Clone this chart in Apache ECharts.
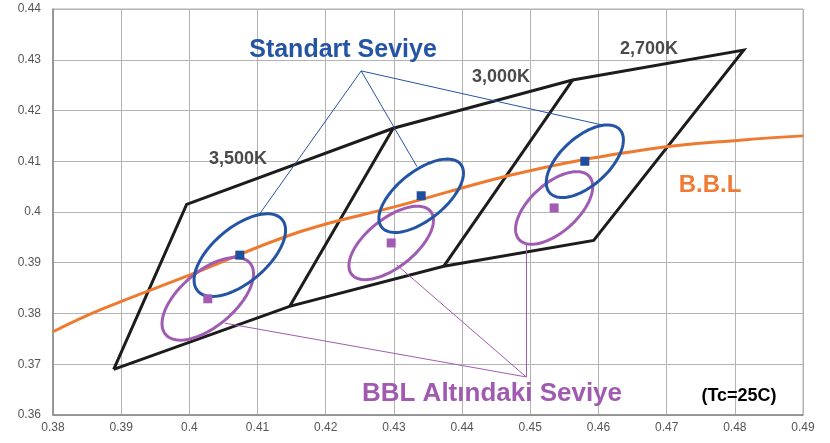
<!DOCTYPE html>
<html>
<head>
<meta charset="utf-8">
<script src="https://cdn.jsdelivr.net/npm/echarts@6/dist/echarts.min.js"></script>
<style>html,body{margin:0;padding:0;background:#fff}#c{width:830px;height:443px}</style>
</head>
<body>
<div id="c"></div>
<script>
// ---- data ----
const xMin = 0.38, xMax = 0.49, yMin = 0.36, yMax = 0.44, step = 0.01;
const cctLabels = ['3,500K', '3,000K', '2,700K'];
// Black Body Locus (B.B.L)
const bblX = [0.38, 0.3869, 0.4001, 0.4162, 0.4309, 0.4485, 0.4675, 0.4812, 0.49];
const bblY = [0.3764, 0.3807, 0.3876, 0.3961, 0.4013, 0.4077, 0.4124, 0.4142, 0.4150];
// quadrangle outline (3500K / 3000K / 2700K)
const quadX = [0.3889, 0.3996, 0.4299, 0.4562, 0.4813, 0.4593, 0.4373, 0.4147, 0.3889];
const quadY = [0.3690, 0.4015, 0.4165, 0.4260, 0.4319, 0.3944, 0.3893, 0.3814, 0.3690];
// inner dividers
const divider1X = [0.4299, 0.4147], divider1Y = [0.4165, 0.3814];
const divider2X = [0.4562, 0.4373], divider2Y = [0.4260, 0.3893];
// ellipse centres
const standardX = [0.4074, 0.4340, 0.4580];
const standardY = [0.3915, 0.4032, 0.4100];
const belowX = [0.4027, 0.4296, 0.4535];
const belowY = [0.3829, 0.3939, 0.4008];
// ellipse shape (semi-axes, rotation in degrees)
const ellipseA = [0.0095, 0.0086, 0.0082];
const ellipseB = [0.0046, 0.0041, 0.0040];
const ellipseAngle = [54, 52, 56];
// leader lines
const standardHub = [0.4252, 0.4278];
const standardTargetsX = [0.4104, 0.4334, 0.4607];
const standardTargetsY = [0.3998, 0.4089, 0.4171];
const belowHub = [0.4494, 0.3675];
const belowTargetsX = [0.4052, 0.4304, 0.4494];
const belowTargetsY = [0.3781, 0.3896, 0.3939];

const BLUE = '#2454a4', PURPLE = '#a05bb2', ORANGE = '#ee7a30';

const zip = (a, b) => a.map((v, i) => [v, b[i]]);
function ellipseData(cx, cy) {
  return cx.map((v, i) => [v, cy[i], ellipseA[i], ellipseB[i], ellipseAngle[i]]);
}
function ellipseSeries(cx, cy, color) {
  return {
    type: 'custom', z: 5,
    data: ellipseData(cx, cy),
    encode: { x: 0, y: 1 },
    renderItem: function (params, api) {
      const ex = api.value(0), ey = api.value(1), a = api.value(2), b = api.value(3);
      const th = api.value(4) * Math.PI / 180;
      const pts = [];
      for (let k = 0; k <= 90; k++) {
        const t = 2 * Math.PI * k / 90;
        const x = ex + a * Math.cos(t) * Math.cos(th) - b * Math.sin(t) * Math.sin(th);
        const y = ey + a * Math.cos(t) * Math.sin(th) + b * Math.sin(t) * Math.cos(th);
        pts.push(api.coord([x, y]));
      }
      return { type: 'polygon', shape: { points: pts }, style: { fill: 'none', stroke: color, lineWidth: 3 } };
    }
  };
}
function leaders(hub, tx, ty, color) {
  return {
    type: 'lines', coordinateSystem: 'cartesian2d', z: 4,
    lineStyle: { color: color, width: 1, opacity: 1 },
    data: tx.map((v, i) => ({ coords: [hub, [v, ty[i]]] }))
  };
}
function blackLine(xs, ys) {
  return {
    type: 'line', data: zip(xs, ys), symbol: 'none', z: 2,
    lineStyle: { color: '#1c1c1c', width: 3, join: 'miter' }, animation: false
  };
}

const chart = echarts.init(document.getElementById('c'));
const font = 'Liberation Sans, Arial, sans-serif';
function txt(s, x, y, size, color) {
  return { type: 'text', x: x, y: y, z: 100,
    style: { text: s, fill: color, font: 'bold ' + size + 'px ' + font, textAlign: 'center', textVerticalAlign: 'middle' } };
}
chart.setOption({
  animation: false,
  grid: { left: 53, right: 27, top: 9, bottom: 28, show: true, borderColor: '#b3b3b3', borderWidth: 1 },
  xAxis: {
    type: 'value', min: xMin, max: xMax, interval: step,
    axisLine: { lineStyle: { color: '#888', width: 1.5 } },
    axisTick: { show: false },
    splitLine: { lineStyle: { color: '#b3b3b3', width: 1 } },
    axisLabel: { color: '#555', fontSize: 12, fontFamily: font, margin: 7, formatter: v => String(+v.toFixed(2)) }
  },
  yAxis: {
    type: 'value', min: yMin, max: yMax, interval: step,
    axisLine: { show: true, lineStyle: { color: '#888', width: 1.5 } },
    axisTick: { show: false },
    splitLine: { lineStyle: { color: '#b3b3b3', width: 1 } },
    axisLabel: { color: '#555', fontSize: 12, fontFamily: font, margin: 12, formatter: v => String(+v.toFixed(2)) }
  },
  series: [
    blackLine(quadX, quadY),
    blackLine(divider1X, divider1Y),
    blackLine(divider2X, divider2Y),
    { type: 'line', data: zip(bblX, bblY), symbol: 'none', smooth: 0.4, z: 3,
      lineStyle: { color: ORANGE, width: 3 } },
    leaders(standardHub, standardTargetsX, standardTargetsY, BLUE),
    leaders(belowHub, belowTargetsX, belowTargetsY, PURPLE),
    ellipseSeries(belowX, belowY, PURPLE),
    ellipseSeries(standardX, standardY, BLUE),
    { type: 'scatter', data: zip(standardX, standardY), symbol: 'rect', symbolSize: 9, z: 6,
      itemStyle: { color: '#1f4e9c', opacity: 1 } },
    { type: 'scatter', data: zip(belowX, belowY), symbol: 'rect', symbolSize: 9, z: 6,
      itemStyle: { color: '#a25cb4', opacity: 1 } }
  ],
  graphic: [
    txt('Standart Seviye', 343, 50, 25, BLUE),
    txt(cctLabels[0], 238, 159, 18, '#4a4a4a'),
    txt(cctLabels[1], 501, 77, 18, '#4a4a4a'),
    txt(cctLabels[2], 649, 49, 18, '#4a4a4a'),
    txt('B.B.L', 710, 185, 24, '#f07b32'),
    txt('BBL Altındaki Seviye', 492, 394, 26, '#a05bb0'),
    txt('(Tc=25C)', 739, 396, 18, '#000')
  ]
});
</script>
</body>
</html>
